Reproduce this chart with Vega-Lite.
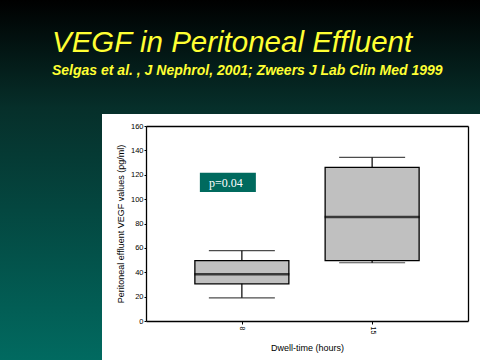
{
  "$schema": "https://vega.github.io/schema/vega-lite/v6.json",
  "width": 322,
  "height": 195,
  "autosize": {"type": "none"},
  "padding": {"left": 146, "top": 126, "right": 12, "bottom": 39},
  "background": "#021a17",
  "title": {
    "text": "VEGF in Peritoneal Effluent",
    "subtitle": "Selgas et al. , J Nephrol, 2001; Zweers J Lab Clin Med 1999",
    "anchor": "start",
    "frame": "group",
    "dx": -94,
    "offset": -79,
    "font": "Liberation Sans",
    "fontSize": 29.5,
    "fontStyle": "italic",
    "fontWeight": "normal",
    "color": "#ffff33",
    "subtitleFont": "Liberation Sans",
    "subtitleFontSize": 14,
    "subtitleFontStyle": "italic",
    "subtitleFontWeight": "bold",
    "subtitleColor": "#ffff33",
    "subtitlePadding": 6
  },
  "data": {
    "values": [
      {"dwell": "8", "lower": 19, "q1": 30.5, "median": 38.4, "q3": 49.5, "upper": 57.7},
      {"dwell": "15", "lower": 47.8, "q1": 49.5, "median": 85.3, "q3": 126, "upper": 134.2}
    ]
  },
  "layer": [
    {
      "data": {"values": [{"part": "background"}]},
      "mark": {
        "type": "rect",
        "fill": {
          "gradient": "linear",
          "x1": 0, "y1": 0, "x2": 0, "y2": 1,
          "stops": [
            {"offset": 0, "color": "#000000"},
            {"offset": 0.3, "color": "#062f2a"},
            {"offset": 1, "color": "#016a60"}
          ]
        }
      },
      "encoding": {
        "x": {"value": -146},
        "x2": {"value": 334},
        "y": {"value": -126},
        "y2": {"value": 234}
      }
    },
    {
      "data": {"values": [{"part": "panel"}]},
      "mark": {"type": "rect", "fill": "#ffffff"},
      "encoding": {
        "x": {"value": -44},
        "x2": {"value": 334},
        "y": {"value": -12},
        "y2": {"value": 234}
      }
    },
    {
      "mark": {"type": "rule", "color": "#000000", "strokeWidth": 1.2},
      "encoding": {
        "x": {
          "field": "dwell",
          "type": "ordinal",
          "sort": ["8", "15"],
          "scale": {"type": "point", "domain": ["8", "15"], "padding": 0.736},
          "axis": {
            "orient": "bottom",
            "title": "Dwell-time (hours)",
            "labelAngle": 90,
            "labelFontSize": 7,
            "labelFont": "Liberation Sans",
            "labelColor": "#000000",
            "labelPadding": 2,
            "tickSize": 3,
            "tickColor": "#000000",
            "domainColor": "#000000",
            "domainWidth": 1.3,
            "titleFont": "Liberation Sans",
            "titleFontSize": 9,
            "titleFontWeight": "normal",
            "titleColor": "#000000",
            "titlePadding": 10,
            "zindex": 1
          }
        },
        "y": {
          "field": "lower",
          "type": "quantitative",
          "scale": {"domain": [0, 160], "nice": false, "zero": true},
          "axis": {
            "orient": "left",
            "title": "Peritoneal effluent VEGF values (pg/ml)",
            "values": [0, 20, 40, 60, 80, 100, 120, 140, 160],
            "labelOverlap": false,
            "grid": false,
            "labelFontSize": 7.5,
            "labelFont": "Liberation Sans",
            "labelColor": "#000000",
            "labelPadding": 1,
            "tickSize": 2,
            "tickColor": "#000000",
            "domainColor": "#000000",
            "domainWidth": 1.3,
            "titleFont": "Liberation Sans",
            "titleFontSize": 9,
            "titleFontWeight": "normal",
            "titleColor": "#000000",
            "titlePadding": 5,
            "zindex": 1
          }
        },
        "y2": {"field": "upper"}
      }
    },
    {
      "mark": {"type": "tick", "color": "#000000", "thickness": 1.2, "size": 66},
      "encoding": {
        "x": {"field": "dwell", "type": "ordinal", "axis": null},
        "y": {"field": "lower", "type": "quantitative", "axis": null}
      }
    },
    {
      "mark": {"type": "tick", "color": "#000000", "thickness": 1.2, "size": 66},
      "encoding": {
        "x": {"field": "dwell", "type": "ordinal", "axis": null},
        "y": {"field": "upper", "type": "quantitative", "axis": null}
      }
    },
    {
      "mark": {"type": "bar", "fill": "#c0c0c0", "stroke": "#000000", "strokeWidth": 1.3, "size": 94},
      "encoding": {
        "x": {"field": "dwell", "type": "ordinal", "axis": null},
        "y": {"field": "q1", "type": "quantitative", "axis": null},
        "y2": {"field": "q3"}
      }
    },
    {
      "mark": {"type": "tick", "color": "#000000", "thickness": 2.5, "size": 95},
      "encoding": {
        "x": {"field": "dwell", "type": "ordinal", "axis": null},
        "y": {"field": "median", "type": "quantitative", "axis": null}
      }
    },
    {
      "data": {"values": [{"dwell": "8", "bottom": 105.9, "top": 121.6, "label": "p=0.04", "mid": 113.6}]},
      "mark": {"type": "bar", "fill": "#006a5e", "size": 56, "xOffset": -14},
      "encoding": {
        "x": {"field": "dwell", "type": "ordinal", "axis": null},
        "y": {"field": "bottom", "type": "quantitative", "axis": null},
        "y2": {"field": "top"}
      }
    },
    {
      "data": {"values": [{"dwell": "8", "bottom": 105.9, "top": 121.6, "label": "p=0.04", "mid": 113.6}]},
      "mark": {"type": "text", "color": "#ffffff", "font": "Liberation Serif", "fontSize": 12, "align": "center", "baseline": "middle", "xOffset": -16},
      "encoding": {
        "x": {"field": "dwell", "type": "ordinal", "axis": null},
        "y": {"field": "mid", "type": "quantitative", "axis": null},
        "text": {"field": "label"}
      }
    },
    {
      "mark": {"type": "point", "opacity": 0},
      "encoding": {
        "x": {
          "field": "dwell",
          "type": "ordinal",
          "axis": {"orient": "top", "title": null, "labels": false, "ticks": false, "domainColor": "#000000", "domainWidth": 1.3, "zindex": 1}
        },
        "y": {
          "field": "median",
          "type": "quantitative",
          "axis": {"orient": "right", "title": null, "labels": false, "ticks": false, "grid": false, "domainColor": "#000000", "domainWidth": 1.3, "zindex": 1}
        }
      }
    }
  ],
  "resolve": {"axis": {"x": "independent", "y": "independent"}},
  "config": {
    "view": {"stroke": null},
    "font": "Liberation Sans"
  }
}
